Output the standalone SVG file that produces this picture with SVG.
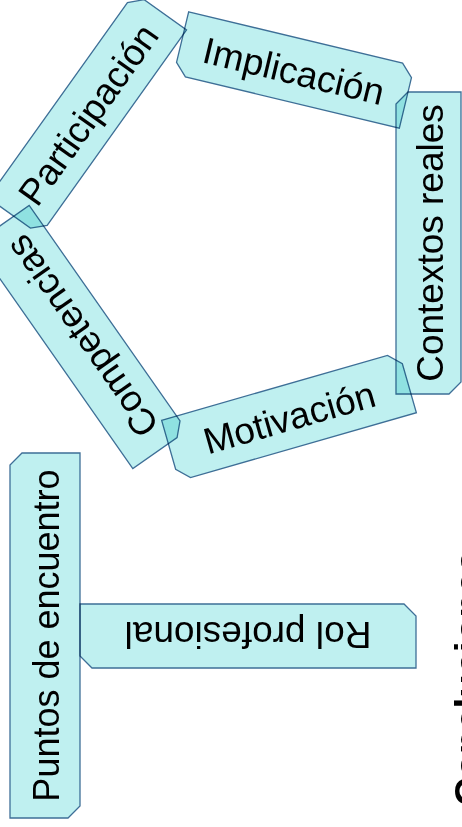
<svg xmlns="http://www.w3.org/2000/svg" width="462" height="827" viewBox="0 0 462 827">
<style>
.box{fill:#bff0f0;stroke:#3e6f97;stroke-width:1.3;mix-blend-mode:multiply}
.lbl{font-family:"Liberation Sans",Arial,sans-serif;font-size:37px;fill:#000;text-anchor:middle}
.title{font-family:"Liberation Sans",Arial,sans-serif;font-size:39px;font-weight:bold;fill:#000}
</style>
<rect width="462" height="827" fill="#fff"/>
<g id="participacion">
<path class="box" transform="translate(87.3,113.9) rotate(-54.5)" d="M -126,-32 H 114 L 126,-20 V 32 H -114 L -126,20 Z"/>
<text class="lbl" transform="translate(87.3,113.9) rotate(-54.5)" dy="0.38em">Participación</text>
</g>
<g id="implicacion">
<path class="box" transform="translate(294,70) rotate(13.5)" d="M -116,-32 H 104 L 116,-20 V 32 H -104 L -116,20 Z"/>
<text class="lbl" transform="translate(294,70) rotate(13.5)" dy="0.38em">Implicación</text>
</g>
<g id="contextos">
<path class="box" transform="translate(428.5,243) rotate(-90)" d="M -151,-32.5 H 139 L 151,-20.5 V 32.5 H -139 L -151,20.5 Z"/>
<text class="lbl" transform="translate(428.5,243) rotate(-90)" dy="0.38em">Contextos reales</text>
</g>
<g id="motivacion">
<path class="box" transform="translate(289,416.5) rotate(-16)" d="M -123.5,-31.5 H 111.5 L 123.5,-19.5 V 31.5 H -111.5 L -123.5,19.5 Z"/>
<text class="lbl" transform="translate(289,416.5) rotate(-16)" dy="0.38em">Motivación</text>
</g>
<g id="competencias">
<path class="box" transform="translate(81,337) rotate(-125)" d="M -137.5,-33 H 125.5 L 137.5,-21 V 33 H -125.5 L -137.5,21 Z"/>
<text class="lbl" transform="translate(81,337) rotate(-125)" dy="0.38em">Competencias</text>
</g>
<g id="puntos">
<path class="box" transform="translate(45,635.5) rotate(-90)" d="M -182.5,-35 H 170.5 L 182.5,-23 V 35 H -170.5 L -182.5,23 Z"/>
<text class="lbl" transform="translate(45,635.5) rotate(-90)" dy="0.38em" style="font-size:36px">Puntos de encuentro</text>
</g>
<g id="rol">
<path class="box" transform="translate(248,636) rotate(180)" d="M -168,-32 H 156 L 168,-20 V 32 H -156 L -168,20 Z"/>
<text class="lbl" transform="translate(248,636) rotate(180)" dy="0.38em">Rol profesional</text>
</g>
<g id="conclusiones">
<text class="title" transform="translate(482,806) rotate(-90)">Conclusiones</text>
</g>
</svg>
